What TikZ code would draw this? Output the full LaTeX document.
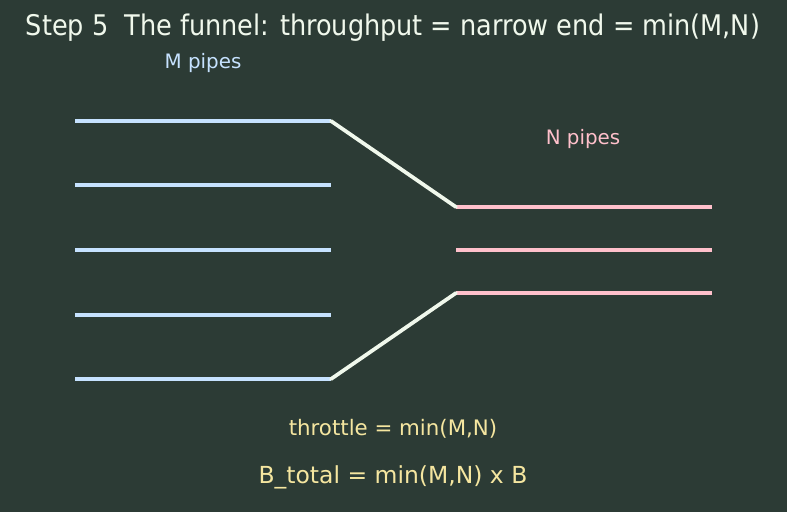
\documentclass[tikz,border=0pt]{standalone}
\usepackage{fontspec}
\setmainfont{DejaVu Sans}
\newfontfamily\condfont{DejaVu Sans Condensed}
\usetikzlibrary{positioning,calc}
\definecolor{bgdark}{HTML}{2C3B35}
\definecolor{inblue}{HTML}{C6E2FF}
\definecolor{outpink}{HTML}{FFC0CB}
\definecolor{funnelwhite}{HTML}{F0F8EC}
\definecolor{notekhaki}{HTML}{F5E6A0}
\tikzset{
  inpipe/.style={draw=inblue, line width=2.4pt},
  outpipe/.style={draw=outpink, line width=2.4pt},
  funnelwall/.style={draw=funnelwhite, line width=2.8pt, line cap=round},
  pipelabel/.style={font=\fontsize{14.9pt}{17pt}\selectfont}
}

\begin{document}
\begin{tikzpicture}[x=0.75pt, y=-0.75pt]
  \fill[bgdark] (0,0) rectangle (787,512);
  \useasboundingbox (0,0) rectangle (787,512);
  \node[text=funnelwhite, font=\condfont\fontsize{21.3pt}{25pt}\selectfont] (title) at (393,28)
      {Step 5\ \ The funnel: throughput = narrow end = min(M,N)};
  \node[pipelabel, text=inblue] (mlab) at (203,63) {M pipes};
  \node[pipelabel, text=outpink] (nlab) at (583,139) {N pipes};
  % M input pipes
  \foreach \i/\y in {1/121, 2/185, 3/250, 4/315, 5/379} {
    \coordinate (m\i a) at (75,\y);
    \coordinate (m\i b) at (331,\y);
    \draw[inpipe] (m\i a) -- (m\i b);
  }
  % N output pipes
  \foreach \j/\y in {1/207, 2/250, 3/293} {
    \coordinate (n\j a) at (456,\y);
    \coordinate (n\j b) at (712,\y);
    \draw[outpipe] (n\j a) -- (n\j b);
  }
  \draw[funnelwall] (m1b) -- (n1a);
  \draw[funnelwall] (m5b) -- (n3a);
  \node[text=notekhaki, font=\fontsize{16pt}{19pt}\selectfont] (thr) at (393,429) {throttle = min(M,N)};
  \node[text=notekhaki, font=\fontsize{17.6pt}{21pt}\selectfont] (btot) at (393,477) {B\_total = min(M,N) x B};
\end{tikzpicture}
\end{document}
